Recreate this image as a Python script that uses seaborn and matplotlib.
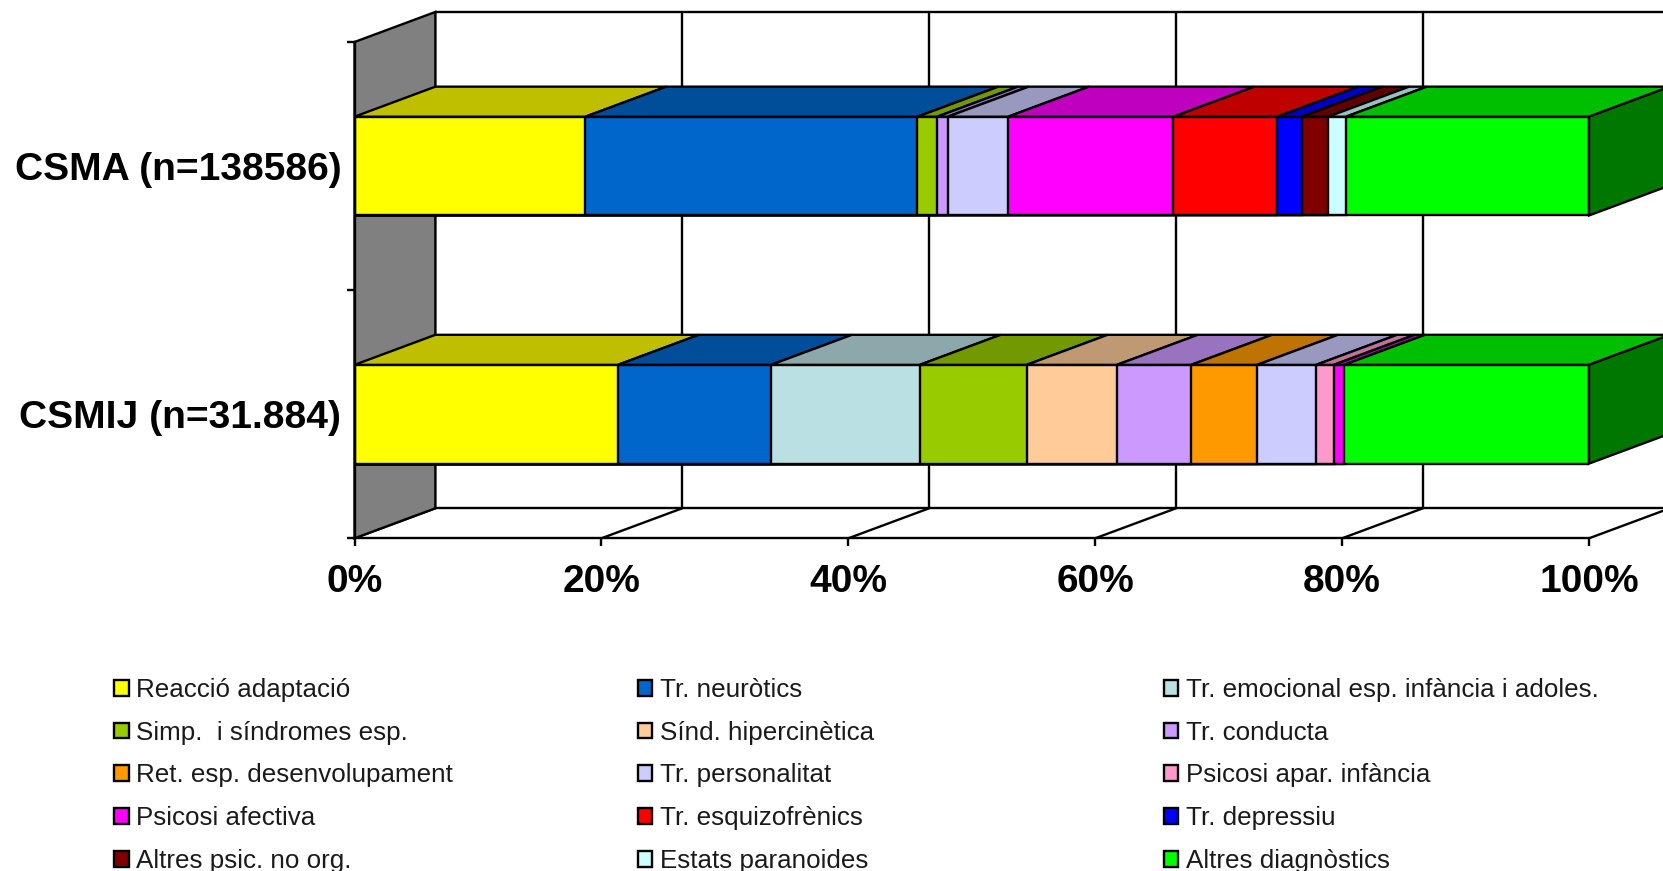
import matplotlib
matplotlib.use("Agg")
import matplotlib.pyplot as plt
from matplotlib.colors import to_rgb
from matplotlib.patches import Patch, Polygon
import numpy as np
import pandas as pd
import seaborn as sns

# Share of visits per diagnostic group at each centre type (%)
centres = ["CSMA (n=138586)", "CSMIJ (n=31.884)"]
diagnostics = [
    "Reacció adaptació", "Tr. neuròtics", "Tr. emocional esp. infància i adoles.",
    "Simp.  i síndromes esp.", "Sínd. hipercinètica", "Tr. conducta",
    "Ret. esp. desenvolupament", "Tr. personalitat", "Psicosi apar. infància",
    "Psicosi afectiva", "Tr. esquizofrènics", "Tr. depressiu",
    "Altres psic. no org.", "Estats paranoides", "Altres diagnòstics",
]
csma = [18.70, 26.90, 0, 1.60, 0, 0.86, 0, 4.89, 0, 13.39, 8.40, 1.98, 2.15, 1.45, 19.68]
csmij = [21.34, 12.40, 12.05, 8.66, 7.31, 6.02, 5.34, 4.78, 1.43, 0.83, 0, 0, 0, 0, 19.84]
colors = [
    "#FFFF00", "#0066CC", "#BBE0E3", "#99CC00", "#FFCC99", "#CC99FF", "#FF9900",
    "#CCCCFF", "#FF99CC", "#FF00FF", "#FF0000", "#0000FF", "#800000", "#CCFFFF", "#00FF00",
]
x_ticks = [0, 20, 40, 60, 80, 100]
x_tick_labels = ["0%", "20%", "40%", "60%", "80%", "100%"]

sns.set_theme(style="white")
plt.rcParams["font.family"] = ["Liberation Sans", "DejaVu Sans"]

W, H = 1663, 871
EDGE = 1.7
DEPTH_X, DEPTH_Y = 6.55, 0.121   # oblique offset of the back plane (x %, category units)
BAR = 0.398

fig = plt.figure(figsize=(W / 100, H / 100), dpi=100, facecolor="white")
ax = fig.add_axes([354.5 / W, 1 - 538.3 / H, 1234.5 / W, 496.3 / H])
ax.patch.set_visible(False)


def shade(color, factor):
    return tuple(c * factor for c in to_rgb(color))


def face(points, color, zorder=1.0):
    ax.add_patch(Polygon(points, closed=True, facecolor=color, edgecolor="black",
                         linewidth=EDGE, clip_on=False, zorder=zorder, joinstyle="miter"))


# Back wall, floor and gridlines
for x in x_ticks:
    ax.plot([x + DEPTH_X] * 2, [-0.5 - DEPTH_Y, 1.5 - DEPTH_Y], color="black", lw=EDGE,
            clip_on=False, zorder=0.5)
    ax.plot([x, x + DEPTH_X], [1.5, 1.5 - DEPTH_Y], color="black", lw=EDGE,
            clip_on=False, zorder=0.5)
for y in (-0.5, 1.5):
    ax.plot([DEPTH_X, 100 + DEPTH_X], [y - DEPTH_Y] * 2, color="black", lw=EDGE,
            clip_on=False, zorder=0.5)

# Grey side wall at the 0% plane
face([(0, -0.5), (DEPTH_X, -0.5 - DEPTH_Y), (DEPTH_X, 1.5 - DEPTH_Y), (0, 1.5)], "#808080", 0.6)

# Front faces: cumulative bars painted from the longest to the shortest
table = pd.DataFrame({"centre": np.repeat(centres, len(diagnostics)),
                      "diagnostic": diagnostics * 2,
                      "share": csma + csmij})
table["end"] = table.groupby("centre", sort=False)["share"].cumsum()
table["start"] = table["end"] - table["share"]
table = table[table["share"] > 0]

sns.barplot(data=table, x="end", y="centre", hue="diagnostic", order=centres,
            hue_order=diagnostics[::-1], palette=dict(zip(diagnostics, colors)),
            dodge=False, width=BAR, saturation=1, edgecolor="black", linewidth=EDGE,
            errorbar=None, legend=False, orient="h", ax=ax)

# Top faces and the closing side face of each bar
for row_index, centre in enumerate(centres):
    rows = table[table["centre"] == centre]
    top = row_index - BAR / 2
    bottom = row_index + BAR / 2
    for _, seg in rows.iterrows():
        col = colors[diagnostics.index(seg["diagnostic"])]
        face([(seg["start"], top), (seg["end"], top),
              (seg["end"] + DEPTH_X, top - DEPTH_Y), (seg["start"] + DEPTH_X, top - DEPTH_Y)],
             shade(col, 0.75))
    last = colors[-1]
    end = rows["end"].max()
    face([(end, top), (end + DEPTH_X, top - DEPTH_Y),
          (end + DEPTH_X, bottom - DEPTH_Y), (end, bottom)], shade(last, 0.47))

# Axes, ticks and labels
ax.set_xlim(0, 100)
ax.set_ylim(1.5, -0.5)
ax.set_xlabel("")
ax.set_ylabel("")
ax.set_xticks(x_ticks, x_tick_labels, fontsize=28, fontweight="bold", color="black")
ax.set_yticks(range(len(centres)), centres, fontsize=28.05, fontweight="bold", color="black")
ax.set_yticks([-0.5, 0.5, 1.5], minor=True)
ax.tick_params(axis="x", which="major", bottom=True, length=6, width=EDGE, color="black", pad=12.8)
ax.tick_params(axis="y", which="major", left=False, length=0, pad=9.5)
ax.tick_params(axis="y", which="minor", left=True, length=6, width=EDGE, color="black")
sns.despine(ax=ax, top=True, right=True)
for side in ("left", "bottom"):
    ax.spines[side].set_color("black")
    ax.spines[side].set_linewidth(EDGE)

# Three legend columns, read row by row
handles = [Patch(facecolor=c, edgecolor="black", linewidth=1.7, label=d)
           for c, d in zip(colors, diagnostics)]
for col, left in enumerate((114.0, 637.5, 1163.5)):
    fig.legend(handles=handles[col::3], loc="upper left", ncols=1,
               bbox_to_anchor=(left / W, 1 - 678 / H), frameon=False, fontsize=18.7,
               borderpad=0, borderaxespad=0, handlelength=0.56, handleheight=0.56,
               handletextpad=0.3, labelspacing=0.72, labelcolor="#1a1a1a")

fig.savefig("out.png", dpi=100, facecolor="white")
